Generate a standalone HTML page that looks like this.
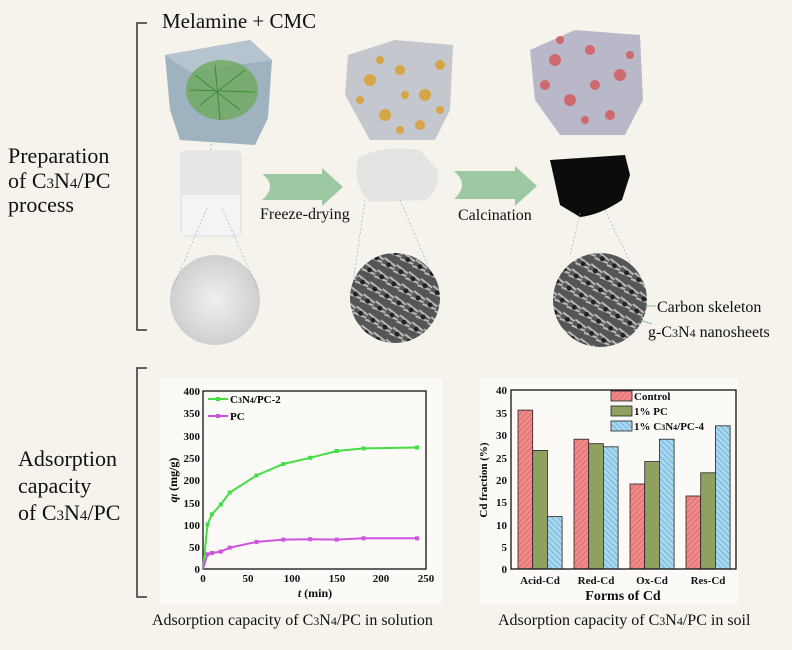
<!DOCTYPE html>
<html><head><meta charset="utf-8"><style>
html,body{margin:0;padding:0;background:#f6f3ec;}
svg{display:block;font-family:"Liberation Serif",serif;}
</style></head><body>
<svg width="792" height="650" viewBox="0 0 792 650" xmlns="http://www.w3.org/2000/svg">
<defs>
<pattern id="hr" width="4" height="4" patternUnits="userSpaceOnUse" patternTransform="rotate(45)"><rect width="4" height="4" fill="#f08a8a"/><line x1="0" y1="0" x2="0" y2="4" stroke="#d05050" stroke-width="1"/></pattern>
<pattern id="hb" width="4" height="4" patternUnits="userSpaceOnUse" patternTransform="rotate(-45)"><rect width="4" height="4" fill="#a8d8f0"/><line x1="0" y1="0" x2="0" y2="4" stroke="#4a90c0" stroke-width="1"/></pattern>
<pattern id="sem" width="14" height="14" patternUnits="userSpaceOnUse" patternTransform="rotate(30)"><rect width="14" height="14" fill="#555"/><path d="M0 3 L14 5 M0 10 L14 8" stroke="#bbb" stroke-width="2"/><circle cx="7" cy="7" r="2.5" fill="#222"/></pattern>
<radialGradient id="g1"><stop offset="0" stop-color="#f0f0f0"/><stop offset="1" stop-color="#cfcfcf"/></radialGradient>
</defs>
<rect width="792" height="650" fill="#f6f3ec"/>
<path d="M147 23 H137 V330 H147" fill="none" stroke="#333" stroke-width="1.5"/>
<path d="M147 368 H137 V597 H147" fill="none" stroke="#333" stroke-width="1.5"/>
<g font-size="22" fill="#111">
<text x="8" y="163">Preparation</text>
<text x="8" y="188">of C<tspan font-size="15">3</tspan>N<tspan font-size="15">4</tspan>/PC</text>
<text x="8" y="212">process</text>
<text x="18" y="466">Adsorption</text>
<text x="18" y="493">capacity</text>
<text x="18" y="520">of C<tspan font-size="15">3</tspan>N<tspan font-size="15">4</tspan>/PC</text>
</g>
<text x="162" y="28" font-size="21" fill="#111">Melamine + CMC</text>
<!-- cube1 -->
<polygon points="165,55 250,40 272,60 268,118 255,145 180,140 170,110" fill="#9fb2c0"/>
<polygon points="165,55 250,40 272,60 190,72" fill="#b6c4cf"/>
<ellipse cx="222" cy="90" rx="36" ry="30" fill="#6aa856" opacity="0.75"/>
<g stroke="#3f8a3a" stroke-width="1"><path d="M195 75 L240 110 M200 105 L245 70 M215 65 L220 120 M190 90 L255 92"/></g>
<line x1="211" y1="140" x2="211" y2="210" stroke="#7a9" stroke-width="0.6" stroke-dasharray="2,2"/>
<!-- beaker -->
<rect x="180" y="150" width="62" height="87" rx="6" fill="#e6e8e8"/>
<rect x="182" y="195" width="58" height="40" fill="#f4f4f4"/>
<circle cx="215" cy="300" r="45" fill="url(#g1)"/>
<line x1="207" y1="208" x2="172" y2="290" stroke="#8ab" stroke-width="0.6" stroke-dasharray="2,2"/>
<line x1="222" y1="208" x2="258" y2="290" stroke="#8ab" stroke-width="0.6" stroke-dasharray="2,2"/>
<path d="M262 174 Q278 186 262 200 H322 V206 L343 187 L322 168 V174 Z" fill="#9cc9a2"/>
<text x="260" y="219" font-size="16" fill="#111">Freeze-drying</text>
<!-- cube2 -->
<polygon points="348,55 395,40 453,45 450,110 435,140 370,140 345,95" fill="#c4c8ce"/>
<g fill="#d8a030" opacity="0.85"><circle cx="370" cy="80" r="6"/><circle cx="400" cy="70" r="5"/><circle cx="425" cy="95" r="6"/><circle cx="385" cy="115" r="6"/><circle cx="420" cy="125" r="5"/><circle cx="440" cy="65" r="5"/><circle cx="360" cy="100" r="4"/><circle cx="405" cy="95" r="4"/><circle cx="440" cy="110" r="4"/><circle cx="380" cy="60" r="4"/><circle cx="400" cy="130" r="4"/></g>
<path d="M358 158 Q380 145 420 150 L438 170 Q440 190 425 200 L370 202 Q352 185 358 158Z" fill="#e4e4e2"/>
<line x1="365" y1="200" x2="352" y2="290" stroke="#8ab" stroke-width="0.6" stroke-dasharray="2,2"/>
<line x1="400" y1="200" x2="432" y2="275" stroke="#8ab" stroke-width="0.6" stroke-dasharray="2,2"/>
<circle cx="395" cy="298" r="45" fill="url(#sem)"/>
<path d="M454 171 Q470 185 454 199 H515 V206 L537 186 L515 166 V171 Z" fill="#9cc9a2"/>
<text x="458" y="220" font-size="16" fill="#111">Calcination</text>
<!-- cube3 -->
<polygon points="530,50 575,30 640,35 643,100 625,135 560,135 535,100" fill="#b8b8c8"/>
<g fill="#d84848" opacity="0.7"><circle cx="555" cy="60" r="6"/><circle cx="590" cy="50" r="5"/><circle cx="620" cy="75" r="6"/><circle cx="570" cy="100" r="6"/><circle cx="610" cy="115" r="5"/><circle cx="545" cy="85" r="5"/><circle cx="595" cy="85" r="5"/><circle cx="630" cy="55" r="4"/><circle cx="585" cy="120" r="4"/><circle cx="560" cy="40" r="4"/></g>
<path d="M550 160 L625 155 L630 175 L622 200 Q600 215 580 217 L560 205 Z" fill="#0c0c0c"/>
<line x1="580" y1="213" x2="570" y2="255" stroke="#8ab" stroke-width="0.6" stroke-dasharray="2,2"/>
<line x1="605" y1="210" x2="630" y2="262" stroke="#8ab" stroke-width="0.6" stroke-dasharray="2,2"/>
<circle cx="600" cy="300" r="47" fill="url(#sem)"/>
<line x1="645" y1="306" x2="656" y2="306" stroke="#6a9" stroke-width="0.8"/>
<line x1="640" y1="320" x2="652" y2="324" stroke="#6a9" stroke-width="0.8"/>
<text x="657" y="312" font-size="16" fill="#111">Carbon skeleton</text>
<text x="648" y="337" font-size="16" fill="#111">g-C<tspan font-size="12">3</tspan>N<tspan font-size="12">4</tspan> nanosheets</text>
<!-- chart1 -->
<rect x="160" y="378" width="282" height="226" fill="#fbfaf7"/>
<rect x="203" y="391" width="223" height="178" fill="none" stroke="#111" stroke-width="1.3"/>
<g font-size="11" font-weight="bold" text-anchor="end" fill="#111">
<text x="200" y="573">0</text><text x="200" y="551">50</text><text x="200" y="529">100</text><text x="200" y="507">150</text><text x="200" y="484">200</text><text x="200" y="462">250</text><text x="200" y="440">300</text><text x="200" y="417">350</text><text x="200" y="395">400</text>
</g>
<g font-size="11" font-weight="bold" text-anchor="middle" fill="#111">
<text x="203" y="582">0</text><text x="248" y="582">50</text><text x="292" y="582">100</text><text x="337" y="582">150</text><text x="381" y="582">200</text><text x="426" y="582">250</text>
<text x="315" y="597" font-size="12"><tspan font-style="italic">t</tspan> (min)</text>
</g>
<text transform="translate(177,480) rotate(-90)" font-size="12" font-weight="bold" text-anchor="middle"><tspan font-style="italic">q</tspan><tspan font-style="italic" font-size="9">t</tspan> (mg/g)</text>
<polyline fill="none" stroke="#44dd44" stroke-width="2" points="203,569 207.5,524.5 211.9,514.3 220.8,504.5 229.8,492.5 256.5,475.5 283.3,464 310.1,457.8 336.8,451 363.6,448.4 417.1,447.5"/>
<g fill="#44dd44"><rect x="205.5" y="522.5" width="4" height="4"/><rect x="209.9" y="512.3" width="4" height="4"/><rect x="218.8" y="502.5" width="4" height="4"/><rect x="227.8" y="490.5" width="4" height="4"/><rect x="254.5" y="473.5" width="4" height="4"/><rect x="281.3" y="462" width="4" height="4"/><rect x="308.1" y="455.8" width="4" height="4"/><rect x="334.8" y="449" width="4" height="4"/><rect x="361.6" y="446.4" width="4" height="4"/><rect x="415.1" y="445.5" width="4" height="4"/></g>
<polyline fill="none" stroke="#cc55dd" stroke-width="2" points="203,569 207.5,554.3 211.9,553 220.8,551.6 229.8,547.6 256.5,541.9 283.3,539.6 310.1,539.2 336.8,539.6 363.6,538.3 417.1,538.3"/>
<g fill="#cc55dd"><rect x="205.5" y="552.3" width="4" height="4"/><rect x="209.9" y="551" width="4" height="4"/><rect x="218.8" y="549.6" width="4" height="4"/><rect x="227.8" y="545.6" width="4" height="4"/><rect x="254.5" y="539.9" width="4" height="4"/><rect x="281.3" y="537.6" width="4" height="4"/><rect x="308.1" y="537.2" width="4" height="4"/><rect x="334.8" y="537.6" width="4" height="4"/><rect x="361.6" y="536.3" width="4" height="4"/><rect x="415.1" y="536.3" width="4" height="4"/></g>
<line x1="208" y1="399" x2="228" y2="399" stroke="#44dd44" stroke-width="2"/><rect x="216" y="397" width="4" height="4" fill="#44dd44"/>
<text x="230" y="403" font-size="11" font-weight="bold">C<tspan font-size="8">3</tspan>N<tspan font-size="8">4</tspan>/PC-2</text>
<line x1="208" y1="416" x2="228" y2="416" stroke="#cc55dd" stroke-width="2"/><rect x="216" y="414" width="4" height="4" fill="#cc55dd"/>
<text x="230" y="420" font-size="11" font-weight="bold">PC</text>
<!-- chart2 -->
<rect x="480" y="378" width="258" height="226" fill="#fbfaf7"/>
<g stroke="#222" stroke-width="0.8">
<rect x="518" y="410.1" width="14.7" height="158.9" fill="url(#hr)"/><rect x="532.7" y="450.4" width="14.7" height="118.6" fill="#8fa060"/><rect x="547.4" y="516.6" width="14.7" height="52.4" fill="url(#hb)"/>
<rect x="574" y="439.2" width="14.7" height="129.8" fill="url(#hr)"/><rect x="588.7" y="443.7" width="14.7" height="125.3" fill="#8fa060"/><rect x="603.4" y="446.8" width="14.7" height="122.2" fill="url(#hb)"/>
<rect x="630" y="484" width="14.7" height="85" fill="url(#hr)"/><rect x="644.7" y="461.6" width="14.7" height="107.4" fill="#8fa060"/><rect x="659.4" y="439.2" width="14.7" height="129.8" fill="url(#hb)"/>
<rect x="686" y="496" width="14.7" height="73" fill="url(#hr)"/><rect x="700.7" y="472.8" width="14.7" height="96.2" fill="#8fa060"/><rect x="715.4" y="425.8" width="14.7" height="143.2" fill="url(#hb)"/>
<rect x="611" y="391" width="21" height="10" fill="url(#hr)"/><rect x="611" y="406" width="21" height="10" fill="#8fa060"/><rect x="611" y="421" width="21" height="10" fill="url(#hb)"/>
</g>
<rect x="511" y="390" width="225" height="179" fill="none" stroke="#111" stroke-width="1.3"/>
<g font-size="11" font-weight="bold" fill="#111">
<text x="634" y="400">Control</text><text x="634" y="415">1% PC</text><text x="634" y="430">1% C<tspan font-size="8">3</tspan>N<tspan font-size="8">4</tspan>/PC-4</text>
</g>
<g font-size="11" font-weight="bold" text-anchor="end" fill="#111">
<text x="507" y="573">0</text><text x="507" y="551">5</text><text x="507" y="529">10</text><text x="507" y="506">15</text><text x="507" y="484">20</text><text x="507" y="462">25</text><text x="507" y="439">30</text><text x="507" y="417">35</text><text x="507" y="394">40</text>
</g>
<g font-size="11" font-weight="bold" text-anchor="middle" fill="#111">
<text x="540" y="584">Acid-Cd</text><text x="596" y="584">Red-Cd</text><text x="652" y="584">Ox-Cd</text><text x="708" y="584">Res-Cd</text>
<text x="623" y="600" font-size="14">Forms of Cd</text>
</g>
<text transform="translate(487,480) rotate(-90)" font-size="11" font-weight="bold" text-anchor="middle">Cd fraction (%)</text>
<g font-size="16" fill="#111">
<text x="152" y="625">Adsorption capacity of C<tspan font-size="12">3</tspan>N<tspan font-size="12">4</tspan>/PC in solution</text>
<text x="498" y="625">Adsorption capacity of C<tspan font-size="12">3</tspan>N<tspan font-size="12">4</tspan>/PC in soil</text>
</g>
</svg>
</body></html>
